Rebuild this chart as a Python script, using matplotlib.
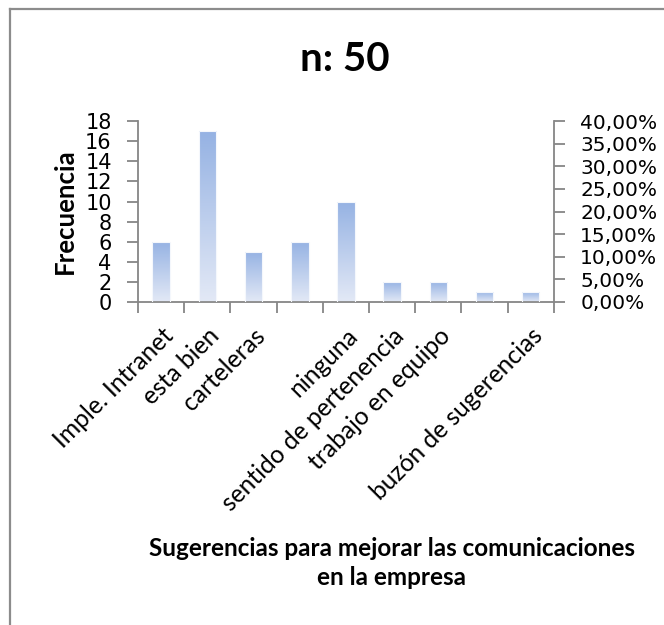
import numpy as np
import matplotlib
matplotlib.use("Agg")
import matplotlib.pyplot as plt
from matplotlib.colors import LinearSegmentedColormap
from matplotlib.lines import Line2D
from matplotlib.ticker import FuncFormatter, MultipleLocator

# survey answers (n = 50)
categorias = ["Imple. Intranet", "esta bien", "carteleras", "", "ninguna",
              "sentido de pertenencia", "trabajo en equipo", "", "buzón de sugerencias"]
frecuencia = [6, 17, 5, 6, 10, 2, 2, 1, 1]
pct_ticks = [0.0, 0.05, 0.10, 0.15, 0.20, 0.25, 0.30, 0.35, 0.40]

axis_grey = "#868686"
grad = LinearSegmentedColormap.from_list("barra", ["#e3e9f6", "#95b2e3"])

fig = plt.figure(figsize=(6.64, 6.25), dpi=100)
ax = fig.add_axes([0.208, 0.517, 0.626, 0.289])

x = np.arange(len(frecuencia))
bars = ax.bar(x, frecuencia, width=0.38, color="none", edgecolor="#f4f7fc",
              linewidth=0.8, zorder=3)

# vertical gradient inside every bar
g = np.linspace(0, 1, 256).reshape(-1, 1)
for b in bars:
    x0, w, h = b.get_x(), b.get_width(), b.get_height()
    im = ax.imshow(g, cmap=grad, origin="lower", aspect="auto",
                   extent=[x0, x0 + w, 0, h], zorder=2)
    im.set_clip_path(b)

ax.set_xlim(-0.5, len(frecuencia) - 0.5)
ax.set_ylim(0, 18)
ax.yaxis.set_major_locator(MultipleLocator(2))

ax.set_xticks(np.append(x - 0.5, len(x) - 0.5))
ax.set_xticklabels([])
ax.set_xticks(x, minor=True)
ax.set_xticklabels(categorias, minor=True, rotation=45, ha="right",
                   rotation_mode="anchor", fontfamily="Lato", fontsize=17.7)
ax.tick_params(axis="x", which="minor", length=0, pad=16)
ax.tick_params(axis="x", which="major", length=8, width=1.3, color=axis_grey)
ax.tick_params(axis="y", length=8, width=1.3, color=axis_grey, labelsize=15, pad=11)
for lab in ax.get_yticklabels():
    lab.set_fontfamily("DejaVu Sans")

for s in ["top", "right"]:
    ax.spines[s].set_visible(False)
for s in ["left", "bottom"]:
    ax.spines[s].set_color(axis_grey)
    ax.spines[s].set_linewidth(1.3)

# percentage axis on the right
ax2 = ax.twinx()
ax2.set_ylim(0, 0.40)
ax2.set_yticks(pct_ticks)
ax2.yaxis.set_major_formatter(FuncFormatter(lambda v, p: f"{v*100:.2f}%".replace(".", ",")))
ax2.tick_params(axis="y", length=8, width=1.3, color=axis_grey, labelsize=14.5, pad=11)
for s in ["top", "left", "bottom"]:
    ax2.spines[s].set_visible(False)
ax2.spines["right"].set_color(axis_grey)
ax2.spines["right"].set_linewidth(1.3)

ax.set_ylabel("Frecuencia", fontfamily="Lato", fontweight="bold", fontsize=18.5, labelpad=6)

fig.text(0.52, 0.905, "n: 50", ha="center", va="center", fontfamily="Lato",
         fontweight="bold", fontsize=29)
fig.text(0.59, 0.099, "Sugerencias para mejorar las comunicaciones\nen la empresa",
         ha="center", va="center", fontfamily="Lato", fontweight="bold",
         fontsize=17.5, linespacing=1.3)

# chart area border (top and left edges)
fig.add_artist(Line2D([0.015, 1.0], [0.986, 0.986], transform=fig.transFigure,
                      color="#8c8c8c", linewidth=1.6))
fig.add_artist(Line2D([0.015, 0.015], [0.0, 0.986], transform=fig.transFigure,
                      color="#8c8c8c", linewidth=1.6))

fig.savefig("out.png", dpi=100, facecolor="white")
